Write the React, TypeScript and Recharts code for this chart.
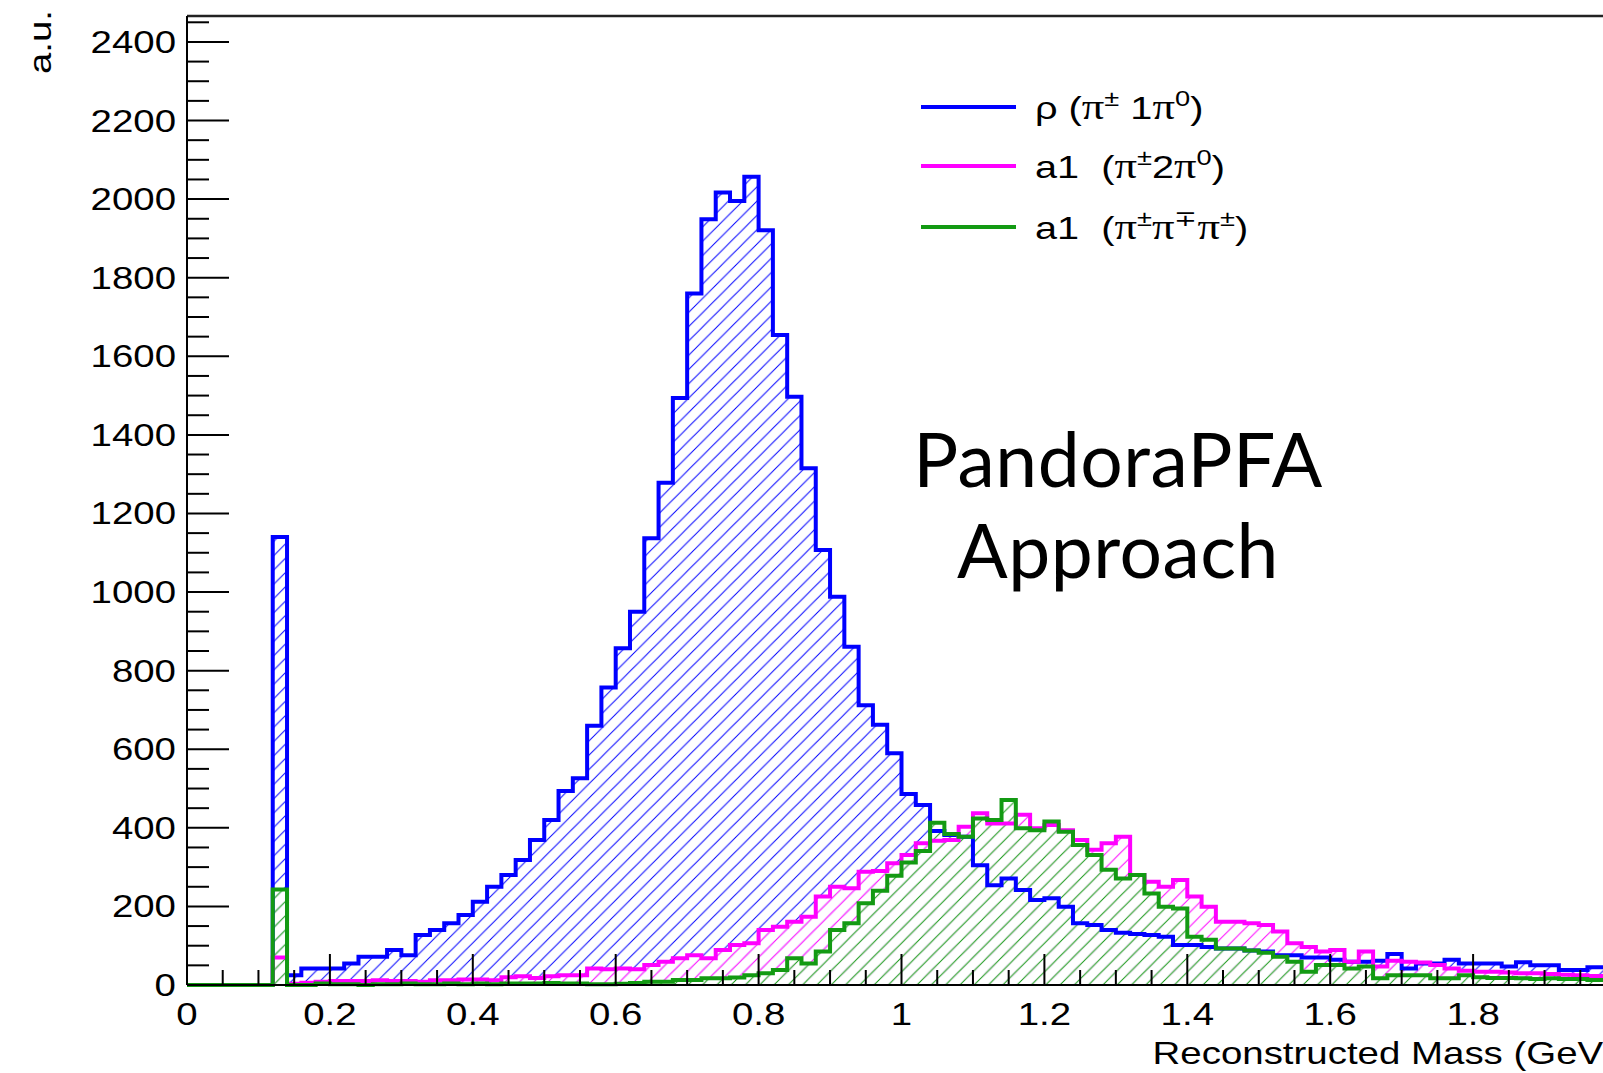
import React from "react";
import { ComposedChart, Area, XAxis, YAxis, ReferenceLine } from "recharts";

// histogram contents, 100 bins of 0.02 GeV from 0 to 2
const binWidth = 0.02;

const rhoCounts = [
  0, 0, 0, 0, 0, 0, 1140, 25, 42, 42,
  42, 55, 72, 72, 89, 76, 127, 140, 157, 178,
  212, 250, 280, 318, 369, 420, 494, 526, 660, 757,
  857, 950, 1137, 1278, 1494, 1760, 1949, 2017, 1995, 2057,
  1921, 1654, 1497, 1315, 1107, 988, 861, 712, 662, 590,
  486, 458, 392, 382, 377, 305, 254, 271, 242, 216,
  221, 199, 157, 153, 140, 133, 130, 127, 123, 102,
  102, 97, 93, 93, 88, 85, 76, 76, 70, 70,
  64, 59, 59, 62, 79, 42, 55, 55, 64, 55,
  55, 55, 47, 58, 50, 50, 38, 38, 45, 45,
];

const a1NeutralCounts = [
  0, 0, 0, 0, 0, 0, 70, 3, 6, 8,
  10, 10, 10, 12, 10, 10, 8, 12, 12, 14,
  14, 12, 20, 22, 18, 22, 25, 25, 42, 40,
  42, 40, 51, 59, 68, 76, 68, 89, 102, 106,
  140, 148, 161, 174, 225, 250, 246, 288, 290, 310,
  331, 361, 367, 369, 403, 437, 411, 411, 433, 399,
  407, 394, 369, 344, 361, 377, 280, 263, 250, 267,
  225, 199, 161, 161, 157, 153, 136, 106, 97, 85,
  89, 59, 85, 47, 62, 59, 57, 51, 42, 36,
  34, 34, 32, 30, 30, 28, 26, 25, 23, 22,
];

const a1ChargedCounts = [
  0, 0, 0, 0, 0, 0, 243, 0, 0, 4,
  2, 2, 0, 2, 2, 4, 2, 2, 4, 2,
  4, 2, 4, 4, 4, 5, 4, 4, 2, 2,
  3, 5, 8, 8, 13, 13, 17, 17, 19, 25,
  30, 38, 68, 55, 85, 140, 157, 208, 240, 278,
  312, 341, 413, 384, 377, 424, 420, 471, 399, 394,
  416, 390, 356, 331, 293, 271, 280, 233, 199, 195,
  123, 115, 93, 93, 88, 82, 72, 59, 34, 51,
  51, 42, 47, 17, 25, 25, 25, 17, 17, 25,
  20, 18, 18, 17, 15, 17, 15, 15, 13, 13,
];

const xMax = 2;
const yMax = 2466;
const xTicks = Array.from({ length: 41 }, (_, i) => i * 5 / 100);
const yTicks = Array.from({ length: 50 }, (_, i) => i * 50);
const xTitle = "Reconstructed Mass (GeV)";
const yTitle = "a.u.";

const BLUE = "#0000ff";
const MAGENTA = "#ff00ff";
const GREEN = "#139a13";
const FONT = "'Liberation Sans', Arial, Helvetica, sans-serif";
const SERIF = "'Liberation Serif', 'Times New Roman', serif";
const STRETCH = 1.24;

const series = [
  { key: "rho", color: BLUE, hatch: "hatchBlue" },
  { key: "a1Neutral", color: MAGENTA, hatch: "hatchMagenta" },
  { key: "a1Charged", color: GREEN, hatch: "hatchGreen" },
];

// one point per lower bin edge + closing edge, drawn as steps
const histData = rhoCounts.map((v, k) => ({
  x: Math.round(k * binWidth * 100) / 100,
  rho: v,
  a1Neutral: a1NeutralCounts[k],
  a1Charged: a1ChargedCounts[k],
}));
histData.push({
  x: xMax,
  rho: rhoCounts[rhoCounts.length - 1],
  a1Neutral: a1NeutralCounts[a1NeutralCounts.length - 1],
  a1Charged: a1ChargedCounts[a1ChargedCounts.length - 1],
});

const fmtX = (v: number) => String(Number(v.toFixed(2)));

const XTick = ({ x, y, payload }: any) => {
  const v = payload.value;
  const major = Math.abs(v * 5 - Math.round(v * 5)) < 1e-6;
  // the last label sits past the cropped right edge, as in the original
  const showLabel = major && v < xMax;
  return (
    <g>
      <line x1={x} x2={x} y1={y} y2={y - (major ? 31 : 15)} stroke="#000" strokeWidth={2} />
      {showLabel && (
        <text
          transform={`translate(${x}, ${y + 40}) scale(${STRETCH},1)`}
          textAnchor="middle"
          fontSize={31}
          fontFamily={FONT}
          fill="#000"
        >
          {fmtX(v)}
        </text>
      )}
    </g>
  );
};

const YTick = ({ x, y, payload }: any) => {
  const v = payload.value;
  const major = v % 200 === 0;
  return (
    <g>
      <line x1={x} x2={x + (major ? 42 : 22)} y1={y} y2={y} stroke="#000" strokeWidth={2} />
      {major && (
        <text
          transform={`translate(${x - 11}, ${y + 11}) scale(${STRETCH},1)`}
          textAnchor="end"
          fontSize={31}
          fontFamily={FONT}
          fill="#000"
        >
          {v}
        </text>
      )}
    </g>
  );
};

// same geometry for every hatch so the later histogram covers the earlier one
const HATCH = "M-2,2 L2,-2 M0,14.3 L14.3,0 M12.3,16.3 L16.3,12.3";
const Hatch = ({ id, color, cover }: { id: string; color: string; cover?: boolean }) => (
  <pattern id={id} patternUnits="userSpaceOnUse" width={14.3} height={14.3}>
    {cover && <path d={HATCH} stroke="#fff" strokeWidth={2.6} />}
    <path d={HATCH} stroke={color} strokeWidth={1} />
  </pattern>
);

// legend rows: [text, isGreek, isSuperscript]
type Part = [string, boolean, boolean];
const legendRows: { color: string; y: number; parts: Part[] }[] = [
  {
    color: BLUE,
    y: 107,
    parts: [["ρ (", false, false], ["π", true, false], ["±", false, true], ["\u00a01", false, false], ["π", true, false], ["0", false, true], [")", false, false]],
  },
  {
    color: MAGENTA,
    y: 166,
    parts: [["a1\u00a0\u00a0(", false, false], ["π", true, false], ["±", false, true], ["2", false, false], ["π", true, false], ["0", false, true], [")", false, false]],
  },
  {
    color: GREEN,
    y: 227,
    parts: [["a1\u00a0\u00a0(", false, false], ["π", true, false], ["±", false, true], ["π", true, false], ["∓", false, true], ["π", true, false], ["±", false, true], [")", false, false]],
  },
];

const LegendText = ({ parts }: { parts: Part[] }) => {
  let raised = false;
  return (
    <>
      {parts.map(([t, greek, sup], i) => {
        let dy = 0;
        if (sup && !raised) dy = -13;
        if (!sup && raised) dy = 13;
        raised = sup;
        return (
          <tspan
            key={i}
            dy={dy}
            fontSize={sup ? 22 : greek ? 36 : 32}
            fontFamily={greek ? SERIF : FONT}
          >
            {t}
          </tspan>
        );
      })}
    </>
  );
};

export default function App() {
  return (
    <div
      style={{
        position: "fixed",
        left: 0,
        top: 0,
        width: 1603,
        height: 1073,
        overflow: "hidden",
        background: "#fff",
      }}
    >
      <svg width={0} height={0} style={{ position: "absolute" }}>
        <defs>
          <Hatch id="hatchBlue" color={BLUE} />
          <Hatch id="hatchMagenta" color={MAGENTA} cover />
          <Hatch id="hatchGreen" color={GREEN} cover />
        </defs>
      </svg>

      <div style={{ position: "absolute", left: 0, top: 0 }}>
        <ComposedChart
          width={1700}
          height={1073}
          data={histData}
          margin={{ top: 16, right: 84, bottom: 0, left: 0 }}
        >
          <XAxis
            dataKey="x"
            type="number"
            domain={[0, xMax]}
            ticks={xTicks}
            interval={0}
            height={88}
            tickSize={0}
            tickMargin={0}
            tickLine={false}
            axisLine={{ stroke: "#000", strokeWidth: 2 }}
            tick={(p: any) => <XTick {...p} />}
          />
          <YAxis
            type="number"
            domain={[0, yMax]}
            ticks={yTicks}
            interval={0}
            width={187}
            tickSize={0}
            tickMargin={0}
            tickLine={false}
            axisLine={{ stroke: "#000", strokeWidth: 2 }}
            tick={(p: any) => <YTick {...p} />}
          />
          <ReferenceLine y={yMax} stroke="#222" strokeWidth={2.5} />
          <ReferenceLine x={xMax} stroke="#222" strokeWidth={2.5} />
          {/* hatched fills first, outlines on top */}
          {series.map((s) => (
            <Area
              key={`fill-${s.key}`}
              type="stepAfter"
              dataKey={s.key}
              stroke="none"
              fill={`url(#${s.hatch})`}
              fillOpacity={1}
              dot={false}
              activeDot={false}
              isAnimationActive={false}
            />
          ))}
          {series.map((s) => (
            <Area
              key={`line-${s.key}`}
              type="stepAfter"
              dataKey={s.key}
              stroke={s.color}
              strokeWidth={4}
              fill="none"
              dot={false}
              activeDot={false}
              isAnimationActive={false}
            />
          ))}
        </ComposedChart>
      </div>

      <svg
        width={1603}
        height={1073}
        style={{ position: "absolute", left: 0, top: 0, pointerEvents: "none" }}
      >
        <text
          transform={`translate(51, 10) rotate(-90) scale(${STRETCH},1)`}
          textAnchor="end"
          fontSize={31}
          fontFamily={FONT}
          fill="#000"
        >
          {yTitle}
        </text>
        <text
          transform={`translate(1616, 1064) scale(${STRETCH},1)`}
          textAnchor="end"
          fontSize={31}
          fontFamily={FONT}
          fill="#000"
        >
          {xTitle}
        </text>

        {legendRows.map((row) => (
          <g key={row.y}>
            <line x1={921} x2={1016} y1={row.y} y2={row.y} stroke={row.color} strokeWidth={4} />
            <text
              transform={`translate(1035, ${row.y + 12}) scale(${STRETCH},1)`}
              fontSize={32}
              fontFamily={FONT}
              fill="#000"
            >
              <LegendText parts={row.parts} />
            </text>
          </g>
        ))}

        <text
          x={1118}
          y={487}
          textAnchor="middle"
          fontSize={75}
          fontFamily="Lato, 'Open Sans', sans-serif"
          letterSpacing={0.5}
          fill="#000"
        >
          PandoraPFA
        </text>
        <text
          x={1118}
          y={578}
          textAnchor="middle"
          fontSize={75}
          fontFamily="Lato, 'Open Sans', sans-serif"
          letterSpacing={0.5}
          fill="#000"
        >
          Approach
        </text>
      </svg>
    </div>
  );
}
